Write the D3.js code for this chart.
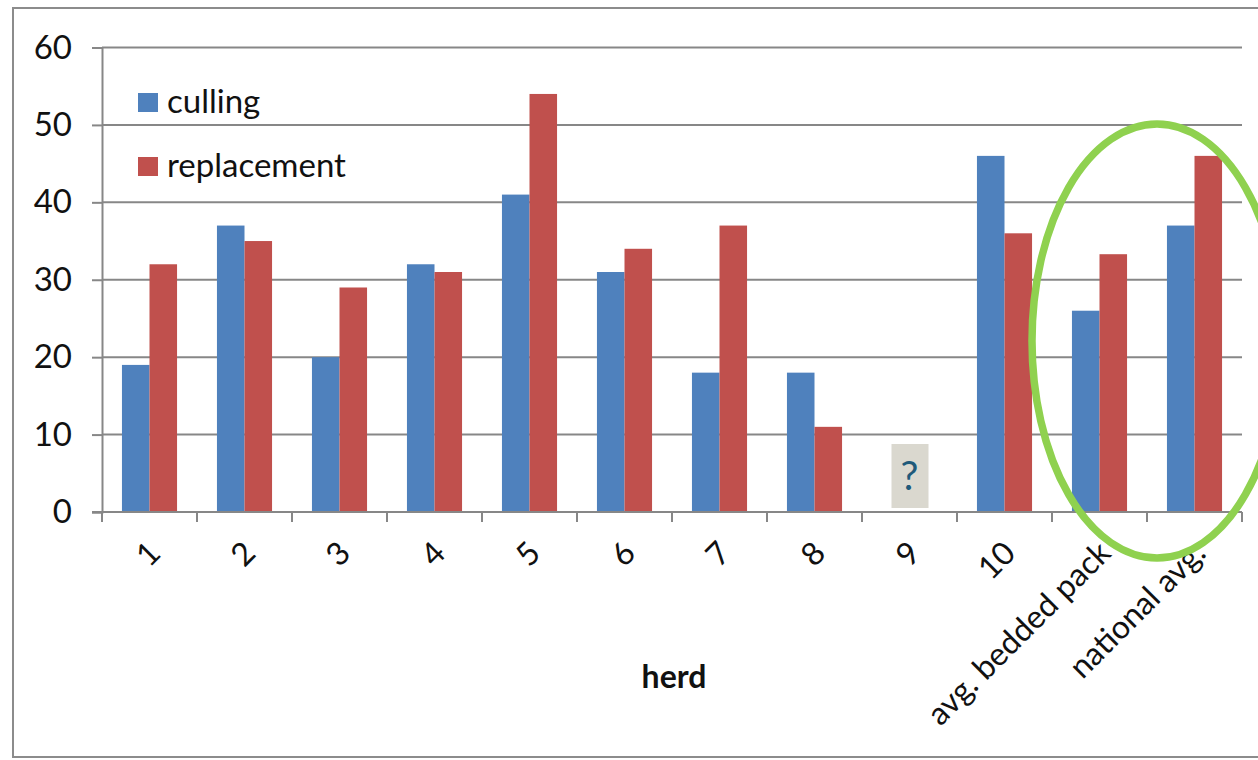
<!DOCTYPE html>
<html><head><meta charset="utf-8">
<script src="https://cdn.jsdelivr.net/npm/d3@7"></script>
<style>
body{margin:0;background:#fff;}
text{font-family:Lato,"Open Sans",sans-serif;}
</style></head>
<body><svg id="c" width="1258" height="760"></svg>
<script>
const categories = ["1","2","3","4","5","6","7","8","9","10","avg. bedded pack","national avg."];
const culling = [19,37,20,32,41,31,18,18,null,46,26,37];
const replacement = [32,35,29,31,54,34,37,11,null,36,33.3,46];
const seriesNames = ["culling","replacement"];
const seriesColors = ["#4f81bd","#c0504d"];
const yTicks = [0,10,20,30,40,50,60];
const xTitle = "herd";
const unknownCategory = "9";
const unknownLabel = "?";

const svg = d3.select("#c");
const L=102, R=1242, T=47.5, B=512;
svg.append("rect").attr("x",13).attr("y",8).attr("width",1260).attr("height",749)
  .attr("fill","none").attr("stroke","#8c8c8c").attr("stroke-width",2);

const x = d3.scaleBand().domain(categories).range([L,R]).paddingInner(0).paddingOuter(0);
const y = d3.scaleLinear().domain([0,60]).range([B,T]);
const bw = x.bandwidth()*0.29;
const grey="#878787";
const fam="Lato,'Open Sans',sans-serif";

svg.append("g").selectAll("line").data(yTicks.filter(d=>d>0)).join("line")
  .attr("x1",L).attr("x2",R).attr("y1",d=>y(d)).attr("y2",d=>y(d))
  .attr("stroke",grey).attr("stroke-width",2);

const ya = svg.append("g").attr("transform",`translate(${L},0)`)
  .call(d3.axisLeft(y).tickValues(yTicks).tickSize(10).tickPadding(20));
ya.select(".domain").attr("stroke",grey).attr("stroke-width",2);
ya.selectAll(".tick line").attr("stroke",grey).attr("stroke-width",2);
ya.selectAll("text").attr("font-size",33).attr("fill","#111").attr("font-family",fam);

const series=[culling,replacement];
series.forEach((vals,si)=>{
  svg.append("g").selectAll("rect").data(categories.map((c,i)=>({c,v:vals[i]})).filter(d=>d.v!=null)).join("rect")
    .attr("x",d=>x(d.c)+x.bandwidth()/2-bw+si*bw)
    .attr("width",bw)
    .attr("y",d=>y(d.v)).attr("height",d=>B-y(d.v))
    .attr("fill",seriesColors[si]);
});

const xa = svg.append("g").attr("transform",`translate(0,${B})`)
  .call(d3.axisBottom(x).tickSize(0).tickPadding(0));
xa.select(".domain").remove();
svg.append("line").attr("x1",L-10).attr("x2",R).attr("y1",B).attr("y2",B).attr("stroke",grey).attr("stroke-width",2);
const bounds = categories.map(c=>x(c)).concat([R]);
svg.append("g").selectAll("line").data(bounds).join("line")
  .attr("x1",d=>d).attr("x2",d=>d).attr("y1",B).attr("y2",B+10).attr("stroke",grey).attr("stroke-width",2);
xa.selectAll(".tick text")
  .attr("font-size",32).attr("fill","#111").attr("font-family",fam)
  .attr("text-anchor","end").attr("dy",0)
  .attr("transform","translate(13,43) rotate(-45)");

const ux = x(unknownCategory)+x.bandwidth()/2;
svg.append("rect").attr("x",ux-18).attr("y",444).attr("width",37).attr("height",64).attr("fill","#dad8cf");
svg.append("text").attr("x",ux).attr("y",490).attr("text-anchor","middle").attr("font-size",40)
  .attr("fill","#1f5a7a").text(unknownLabel);

svg.append("text").attr("x",674).attr("y",688).attr("text-anchor","middle")
  .attr("font-size",32).attr("font-weight","bold").attr("fill","#111").text(xTitle);

seriesNames.forEach((n,i)=>{
  const ly=93+i*64;
  svg.append("rect").attr("x",138).attr("y",ly).attr("width",20).attr("height",19).attr("fill",seriesColors[i]);
  svg.append("text").attr("x",167).attr("y",ly+20).attr("font-size",33).attr("fill","#111").text(n);
});

svg.append("ellipse").attr("cx",1157).attr("cy",341).attr("rx",125).attr("ry",217)
  .attr("fill","none").attr("stroke","#8fd14f").attr("stroke-width",7.5);
</script></body></html>
